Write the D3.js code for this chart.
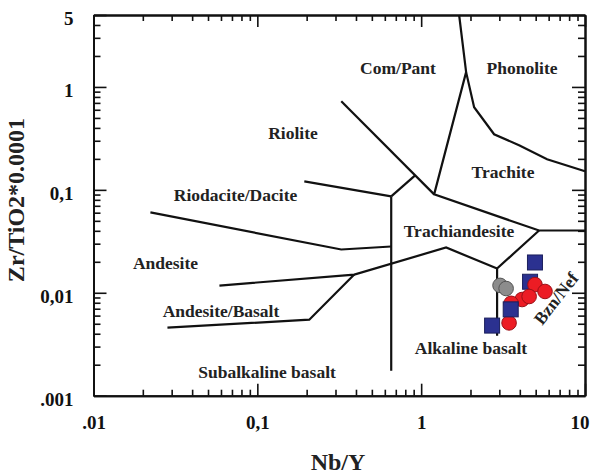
<!DOCTYPE html>
<html><head><meta charset="utf-8">
<script src="https://cdn.jsdelivr.net/npm/d3@7"></script>
<style>body{margin:0;background:#fff} svg{display:block}</style>
</head><body>
<svg id="c" width="590" height="475"></svg>
<script>
// ---- axis ticks / labels ----
const xMajor = [0.01, 0.1, 1, 10];
const xMajorLabels = [".01", "0,1", "1", "10"];
const yMajor = [0.001, 0.01, 0.1, 1, 5];
const yMajorLabels = [".001", "0,01", "0,1", "1", "5"];

// ---- field boundaries (Nb/Y, Zr/TiO2*0.0001) ----
const lineA = [[1.705,5],[1.881,1.393],[2.105,0.636],[2.787,0.347],[3.958,0.271],[5.867,0.198],[10,0.1514]];
const lineB = [[1.881,1.393],[1.200,0.0904],[5.243,0.0403],[10,0.0403]];
const lineC = [[0.3253,0.727],[1.200,0.0904]];
const lineD = [[0.919,0.1384],[0.6564,0.0864]];
const lineE = [[0.1935,0.121],[0.6564,0.0864]];
const lineF = [[0.6564,0.0864],[0.6564,0.001747]];
const lineG = [[0.02225,0.0604],[0.3253,0.02634],[0.6564,0.02817]];
const lineH = [[0.0587,0.01175],[0.3905,0.01503],[1.420,0.02754],[2.907,0.0172]];
const lineI = [[0.02827,0.00458],[0.2075,0.00548],[0.3905,0.01503]];
const lineJ = [[5.243,0.0403],[2.907,0.0172],[2.907,0.00383]];

// ---- field names (label anchor: centre / baseline) ----
const fieldNames = ["Com/Pant","Phonolite","Riolite","Trachite","Riodacite/Dacite","Trachiandesite","Andesite","Andesite/Basalt","Alkaline basalt","Subalkaline basalt"];
const fieldNbY  = [0.722, 4.126, 0.1651, 3.159, 0.0736, 1.702, 0.0275, 0.060, 2.015, 0.1146];
const fieldZrTi = [1.336, 1.336, 0.312, 0.1304, 0.0779, 0.0352, 0.01702, 0.00588, 0.002542, 0.001486];
const bznNbY = 6.65, bznZrTi = 0.0088;

// ---- samples ----
const squareNbY  = [4.95, 4.62, 3.52, 2.71];
const squareZrTi = [0.0197, 0.0128, 0.0069, 0.0048];
const redNbY  = [4.95, 5.70, 4.13, 4.56, 3.54, 3.44];
const redZrTi = [0.0120, 0.0103, 0.0086, 0.0092, 0.0079, 0.0051];
const grayNbY  = [3.03, 3.30];
const grayZrTi = [0.0118, 0.0110];

const svg = d3.select("#c");
const L = 93.5, R = 585, T = 15, B = 395.7;
const x = d3.scaleLog().domain([0.01, 10]).range([L, R]);
const y = d3.scaleLog().domain([0.001, 5]).range([B, T]);
const FONT = "'Liberation Serif','Times New Roman',serif";

// minor tick values
const xMinor = [];
xMajor.slice(0, -1).forEach(d => { for (let k = 2; k <= 9; k++) xMinor.push(d * k); });
const yMinor = [];
[0.001, 0.01, 0.1, 1].forEach(d => { for (let k = 2; k <= 9; k++) if (d * k < 5) yMinor.push(d * k); });

function styleAxis(g) {
  g.selectAll("path.domain").attr("stroke", "#111").attr("stroke-width", 2);
  g.selectAll(".tick line").attr("stroke", "#111").attr("stroke-width", 1.6);
  g.selectAll("text").attr("font-family", FONT).attr("font-weight", "bold").attr("font-size", 19).attr("fill", "#111");
}

// bottom
svg.append("g").attr("transform", `translate(0,${B})`)
  .call(d3.axisBottom(x).tickValues(xMinor).tickSize(-6).tickSizeOuter(0).tickFormat(""))
  .call(styleAxis);
svg.append("g").attr("transform", `translate(0,${B})`)
  .call(d3.axisBottom(x).tickValues(xMajor).tickSize(-12).tickSizeOuter(0).tickPadding(20)
        .tickFormat((d, i) => xMajorLabels[i]))
  .call(styleAxis)
  .call(g => g.selectAll(".tick text").filter(d => d === 10).attr("text-anchor", "end").attr("x", 4));
// top
svg.append("g").attr("transform", `translate(0,${T})`)
  .call(d3.axisTop(x).tickValues(xMinor).tickSize(-6).tickSizeOuter(0).tickFormat(""))
  .call(styleAxis);
svg.append("g").attr("transform", `translate(0,${T})`)
  .call(d3.axisTop(x).tickValues(xMajor).tickSize(-12).tickSizeOuter(0).tickFormat(""))
  .call(styleAxis);
// left
svg.append("g").attr("transform", `translate(${L},0)`)
  .call(d3.axisLeft(y).tickValues(yMinor).tickSize(-7).tickSizeOuter(0).tickFormat(""))
  .call(styleAxis);
svg.append("g").attr("transform", `translate(${L},0)`)
  .call(d3.axisLeft(y).tickValues(yMajor).tickSize(-13).tickSizeOuter(0).tickPadding(20)
        .tickFormat((d, i) => yMajorLabels[i]))
  .call(styleAxis)
  .call(g => g.selectAll("text").attr("dy", "0.5em"));
// right
svg.append("g").attr("transform", `translate(${R},0)`)
  .call(d3.axisRight(y).tickValues(yMinor).tickSize(-7).tickSizeOuter(0).tickFormat(""))
  .call(styleAxis);
svg.append("g").attr("transform", `translate(${R},0)`)
  .call(d3.axisRight(y).tickValues(yMajor).tickSize(-13).tickSizeOuter(0).tickFormat(""))
  .call(styleAxis);

// boundaries
const line = d3.line().x(d => x(d[0])).y(d => y(d[1]));
[lineA, lineB, lineC, lineD, lineE, lineF, lineG, lineH, lineI, lineJ].forEach(l => {
  svg.append("path").attr("d", line(l)).attr("fill", "none")
    .attr("stroke", "#111").attr("stroke-width", 2.2).attr("stroke-linejoin", "miter");
});

// field labels
svg.append("g").selectAll("text").data(fieldNames).join("text")
  .attr("x", (d, i) => x(fieldNbY[i]))
  .attr("y", (d, i) => y(fieldZrTi[i]))
  .attr("text-anchor", "middle")
  .attr("font-family", FONT).attr("font-weight", "bold").attr("font-size", 17.5)
  .attr("fill", "#222")
  .text(d => d);

// Bzn/Nef rotated
svg.append("text").attr("transform", `translate(${x(bznNbY)},${y(bznZrTi)}) rotate(-52)`)
  .attr("text-anchor", "middle").attr("dominant-baseline", "central")
  .attr("font-family", FONT).attr("font-weight", "bold").attr("font-size", 17.5).attr("fill", "#222")
  .text("Bzn/Nef");

// samples
const S = 15;
function drawSquares(idx) {
  svg.append("g").selectAll("rect").data(idx).join("rect")
    .attr("x", i => x(squareNbY[i]) - S / 2).attr("y", i => y(squareZrTi[i]) - S / 2)
    .attr("width", S).attr("height", S)
    .attr("fill", "#2b3190").attr("stroke", "#1b1f5c").attr("stroke-width", 1);
}
drawSquares([0, 1]);
svg.append("g").selectAll("circle").data(redNbY).join("circle")
  .attr("cx", d => x(d)).attr("cy", (d, i) => y(redZrTi[i])).attr("r", 7.3)
  .attr("fill", "#ec1c24").attr("stroke", "#9a1016").attr("stroke-width", 1);
svg.append("g").selectAll("circle").data(grayNbY).join("circle")
  .attr("cx", d => x(d)).attr("cy", (d, i) => y(grayZrTi[i])).attr("r", 7.3)
  .attr("fill", "#8c8c8c").attr("stroke", "#555").attr("stroke-width", 1);
drawSquares([2, 3]);

// axis titles
svg.append("text").attr("x", 338).attr("y", 470).attr("text-anchor", "middle")
  .attr("font-family", FONT).attr("font-weight", "bold").attr("font-size", 24).attr("fill", "#222")
  .text("Nb/Y");
svg.append("text").attr("transform", "translate(24,200) rotate(-90)").attr("text-anchor", "middle")
  .attr("font-family", FONT).attr("font-weight", "bold").attr("font-size", 24).attr("fill", "#222")
  .text("Zr/TiO2*0.0001");
</script>
</body></html>
